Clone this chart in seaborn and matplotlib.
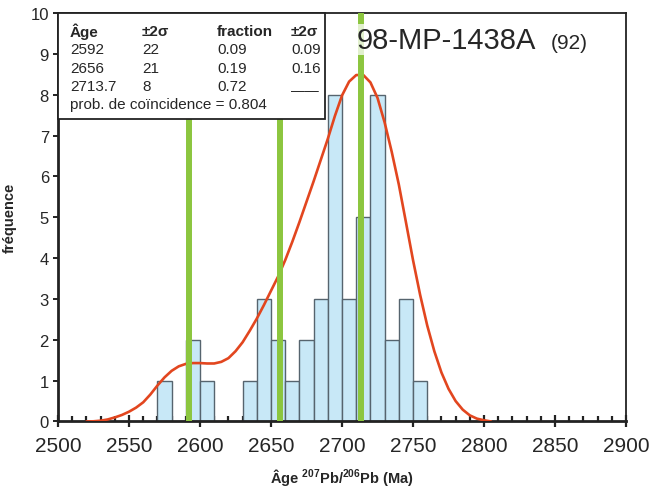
import matplotlib

matplotlib.use("Agg")

import matplotlib.pyplot as plt
import matplotlib.patches as mpatches
from matplotlib.ticker import MultipleLocator
import seaborn as sns

# ------------------------------------------------------------
# Données
# ------------------------------------------------------------
# histogramme : début de chaque classe de 10 Ma et effectif
bin_starts = [2570, 2580, 2590, 2600, 2610, 2620, 2630, 2640, 2650, 2660,
              2670, 2680, 2690, 2700, 2710, 2720, 2730, 2740, 2750]
counts = [1, 0, 2, 1, 0, 0, 1, 3, 2, 1, 2, 3, 8, 3, 5, 8, 2, 3, 1]

# courbe de densité de probabilité (lue point par point)
curve_age = [2520, 2525, 2530, 2535, 2540, 2545, 2550, 2555, 2560, 2565,
             2570, 2575, 2580, 2585, 2590, 2595, 2600, 2605, 2610, 2615,
             2620, 2625, 2630, 2635, 2640, 2645, 2650, 2655, 2660, 2665,
             2670, 2675, 2680, 2685, 2690, 2695, 2700, 2705, 2710, 2715,
             2720, 2725, 2730, 2735, 2740, 2745, 2750, 2755, 2760, 2765,
             2770, 2775, 2780, 2785, 2790, 2795, 2800, 2805]
curve_freq = [0.0, 0.005, 0.02, 0.05, 0.1, 0.16, 0.24, 0.34, 0.47, 0.66,
              0.88, 1.08, 1.24, 1.35, 1.41, 1.43, 1.43, 1.42, 1.42, 1.46,
              1.55, 1.72, 1.94, 2.22, 2.52, 2.85, 3.2, 3.55, 3.95, 4.4,
              4.88, 5.38, 5.88, 6.4, 6.92, 7.48, 7.98, 8.32, 8.48, 8.48,
              8.3, 7.92, 7.32, 6.6, 5.8, 4.88, 3.95, 3.1, 2.35, 1.72,
              1.2, 0.8, 0.5, 0.29, 0.15, 0.07, 0.03, 0.0]

# âges des composantes (lignes vertes)
comp_ages = [2592, 2656, 2713.7]

# tableau des résultats
table_header = ["Âge", "±2σ", "fraction", "±2σ"]
table_rows = [
    ["2592", "22", "0.09", "0.09"],
    ["2656", "21", "0.19", "0.16"],
    ["2713.7", "8", "0.72", ""],
]
prob_text = "prob. de coïncidence = 0.804"
sample_name = "98-MP-1438A"
sample_n = "(92)"

# ------------------------------------------------------------
# Style
# ------------------------------------------------------------
sns.set_theme(style="ticks")
plt.rcParams["font.family"] = ["Liberation Sans", "DejaVu Sans"]
plt.rcParams["mathtext.fontset"] = "custom"
plt.rcParams["mathtext.bf"] = "Liberation Sans:bold"
plt.rcParams["mathtext.rm"] = "Liberation Sans:bold"
plt.rcParams["mathtext.default"] = "bf"

BAR_FILL = "#c8e8f7"
BAR_EDGE = "#56646e"
CURVE = "#e2461f"
GREEN = "#8cc63f"

fig = plt.figure(figsize=(6.49, 4.89), dpi=100)
ax = fig.add_axes([0.0894, 0.136, 0.8752, 0.8355])

# histogramme
sns.histplot(x=bin_starts, weights=counts, binwidth=10, binrange=(2570, 2760),
             color=BAR_FILL, edgecolor=BAR_EDGE, linewidth=1.0, alpha=1,
             ax=ax, zorder=2)

# courbe
sns.lineplot(x=curve_age, y=curve_freq, color=CURVE, linewidth=1.9,
             ax=ax, zorder=3)

# lignes des composantes
for age in comp_ages:
    ax.axvline(age, color=GREEN, linewidth=4.3, zorder=4)

# axes
ax.set_xlim(2500, 2900)
ax.set_ylim(0, 10)
ax.xaxis.set_major_locator(MultipleLocator(50))
ax.xaxis.set_minor_locator(MultipleLocator(10))
ax.yaxis.set_major_locator(MultipleLocator(1))
ax.tick_params(axis="x", which="major", direction="inout", length=9,
               width=1.6, labelsize=15, pad=6, color="#222222")
ax.tick_params(axis="x", which="minor", direction="in", length=3.5,
               width=1.6, color="#222222")
ax.tick_params(axis="y", which="major", direction="out", length=3.5,
               width=1.4, labelsize=12, pad=3, color="#222222")
for side in ["left", "bottom"]:
    ax.spines[side].set_linewidth(2.0)
    ax.spines[side].set_color("#222222")
for side in ["top", "right"]:
    ax.spines[side].set_visible(True)
    ax.spines[side].set_linewidth(1.3)
    ax.spines[side].set_color("#222222")

ax.set_ylabel("fréquence", fontsize=10.5, fontweight="bold", labelpad=10)
ax.set_xlabel(r"Âge $^{207}$Pb/$^{206}$Pb (Ma)", fontsize=10.5,
              fontweight="bold", labelpad=8)

# tableau en haut à gauche
box = mpatches.Rectangle((0, 0.74), 0.47, 0.26, transform=ax.transAxes,
                         facecolor="white", edgecolor="#222222",
                         linewidth=1.3, zorder=6, clip_on=False)
ax.add_patch(box)
col_x = [0.021, 0.148, 0.28, 0.41]
row_y = [0.957, 0.912, 0.866, 0.822]
for x, txt in zip(col_x, table_header):
    ax.text(x, row_y[0], txt, transform=ax.transAxes, fontsize=11,
            fontweight="bold", va="center", ha="left", zorder=7)
for y, row in zip(row_y[1:], table_rows):
    for x, txt in zip(col_x, row):
        ax.text(x, y, txt, transform=ax.transAxes, fontsize=11,
                va="center", ha="left", zorder=7)
ax.text(col_x[3], row_y[3] - 0.01, "\u2014\u2014", transform=ax.transAxes,
        fontsize=10, va="center", ha="left", zorder=7)
ax.text(col_x[0], 0.777, prob_text, transform=ax.transAxes, fontsize=11,
        va="center", ha="left", zorder=7)

# nom de l'échantillon
ax.text(0.526, 0.934, sample_name, transform=ax.transAxes, fontsize=21,
        va="center", ha="left", zorder=7,
        bbox=dict(facecolor="white", edgecolor="none", alpha=0.75, pad=1))
ax.text(0.868, 0.928, sample_n, transform=ax.transAxes, fontsize=15,
        va="center", ha="left", zorder=7)

fig.savefig("out.png", dpi=100)
